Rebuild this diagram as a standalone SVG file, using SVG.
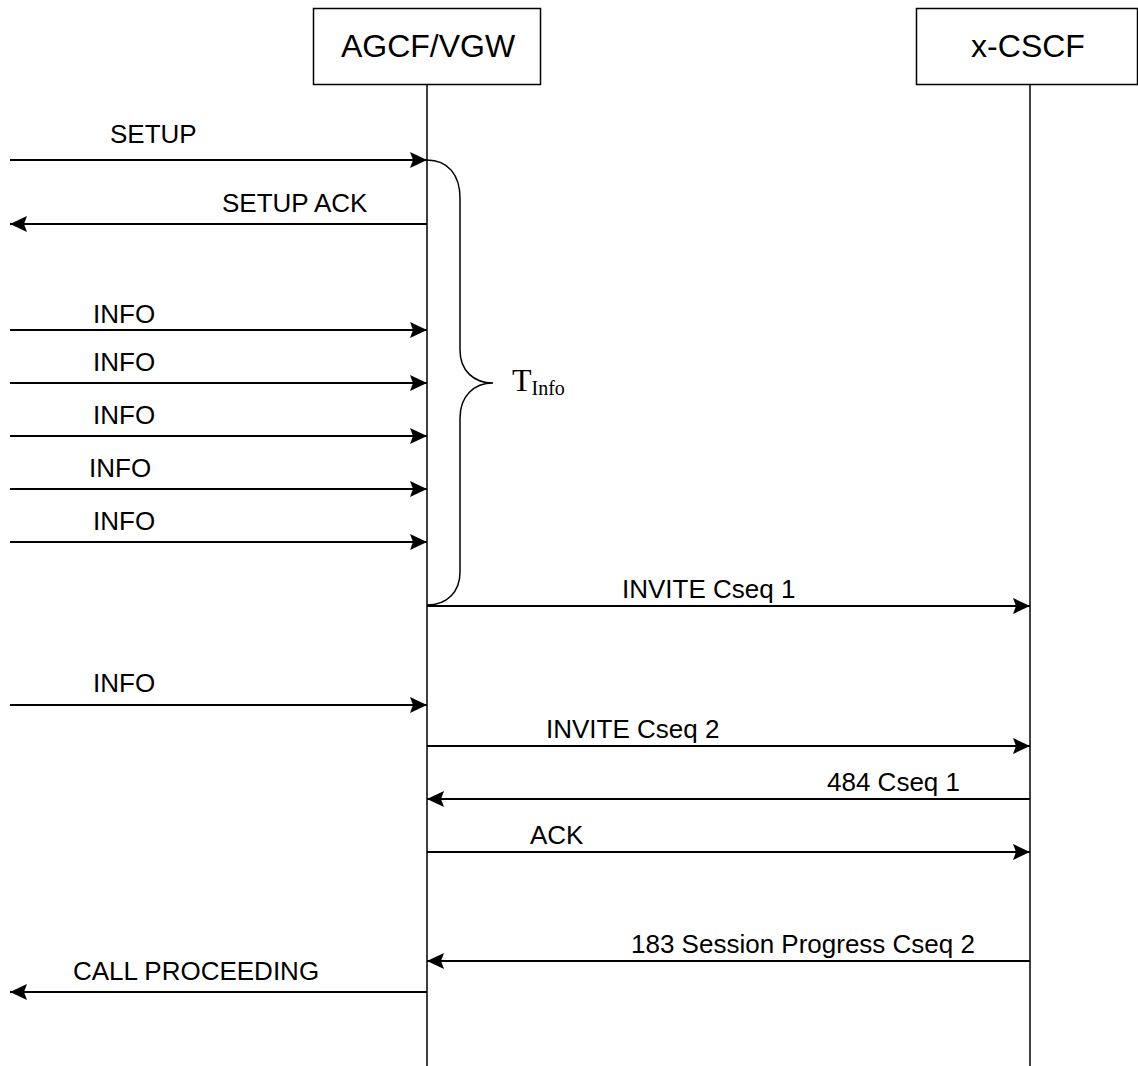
<svg xmlns="http://www.w3.org/2000/svg" width="1138" height="1066" viewBox="0 0 1138 1066">
<style>
.box{fill:#fff;stroke:#000;stroke-width:1.5}
.life{stroke:#000;stroke-width:1.5;fill:none}
.msg{stroke:#000;stroke-width:1.8;fill:none;marker-end:url(#ah)}
.hdr{font-family:"Liberation Sans",Arial,sans-serif;font-size:32px;fill:#000;text-anchor:middle}
.lbl{font-family:"Liberation Sans",Arial,sans-serif;font-size:26px;fill:#000}
.tm{font-family:"Liberation Serif","Times New Roman",serif;fill:#000}
</style>
<defs>
<marker id="ah" viewBox="0 0 17 16" refX="17" refY="8" markerWidth="17" markerHeight="16" markerUnits="userSpaceOnUse" orient="auto">
<path d="M0,0 L17,8 L0,16 L3,8 z" fill="#000"/>
</marker>
</defs>
<rect width="1138" height="1066" fill="#fff"/>
<g id="agcf">
<rect class="box" x="313.5" y="8.5" width="227" height="76"/>
<text class="hdr" x="428" y="57">AGCF/VGW</text>
<line class="life" x1="427" y1="84.5" x2="427" y2="1066"/>
</g>
<g id="xcscf">
<rect class="box" x="916.5" y="8.5" width="221" height="76"/>
<text class="hdr" x="1028" y="57">x-CSCF</text>
<line class="life" x1="1030" y1="84.5" x2="1030" y2="1066"/>
</g>
<g id="tinfo">
<path class="life" d="M427,160 C448,160 460,175 460,198 L460,350 C460,371 474,383 493,383 C474,383 460,396 460,418 L460,572 C460,592 447,605 427,605"/>
<text class="tm" x="512" y="391" font-size="32">T<tspan font-size="20" dy="4">Info</tspan></text>
</g>
<g id="connectors">
<line class="msg" x1="10" y1="160" x2="427" y2="160"/>
<line class="msg" x1="427" y1="224" x2="10" y2="224"/>
<line class="msg" x1="10" y1="330" x2="427" y2="330"/>
<line class="msg" x1="10" y1="383" x2="427" y2="383"/>
<line class="msg" x1="10" y1="436" x2="427" y2="436"/>
<line class="msg" x1="10" y1="489" x2="427" y2="489"/>
<line class="msg" x1="10" y1="542" x2="427" y2="542"/>
<line class="msg" x1="427" y1="606" x2="1030" y2="606"/>
<line class="msg" x1="10" y1="705" x2="427" y2="705"/>
<line class="msg" x1="427" y1="746" x2="1030" y2="746"/>
<line class="msg" x1="1030" y1="799" x2="427" y2="799"/>
<line class="msg" x1="427" y1="852" x2="1030" y2="852"/>
<line class="msg" x1="1030" y1="961" x2="427" y2="961"/>
<line class="msg" x1="427" y1="992" x2="10" y2="992"/>
</g>
<g id="labels">
<text class="lbl" x="110" y="143">SETUP</text>
<text class="lbl" x="222" y="212">SETUP ACK</text>
<text class="lbl" x="93" y="323">INFO</text>
<text class="lbl" x="93" y="371">INFO</text>
<text class="lbl" x="93" y="424">INFO</text>
<text class="lbl" x="89" y="477">INFO</text>
<text class="lbl" x="93" y="530">INFO</text>
<text class="lbl" x="622" y="598">INVITE Cseq 1</text>
<text class="lbl" x="93" y="692">INFO</text>
<text class="lbl" x="546" y="738">INVITE Cseq 2</text>
<text class="lbl" x="827" y="791">484 Cseq 1</text>
<text class="lbl" x="530" y="844">ACK</text>
<text class="lbl" x="631" y="953">183 Session Progress Cseq 2</text>
<text class="lbl" x="73" y="980">CALL PROCEEDING</text>
</g>
</svg>
